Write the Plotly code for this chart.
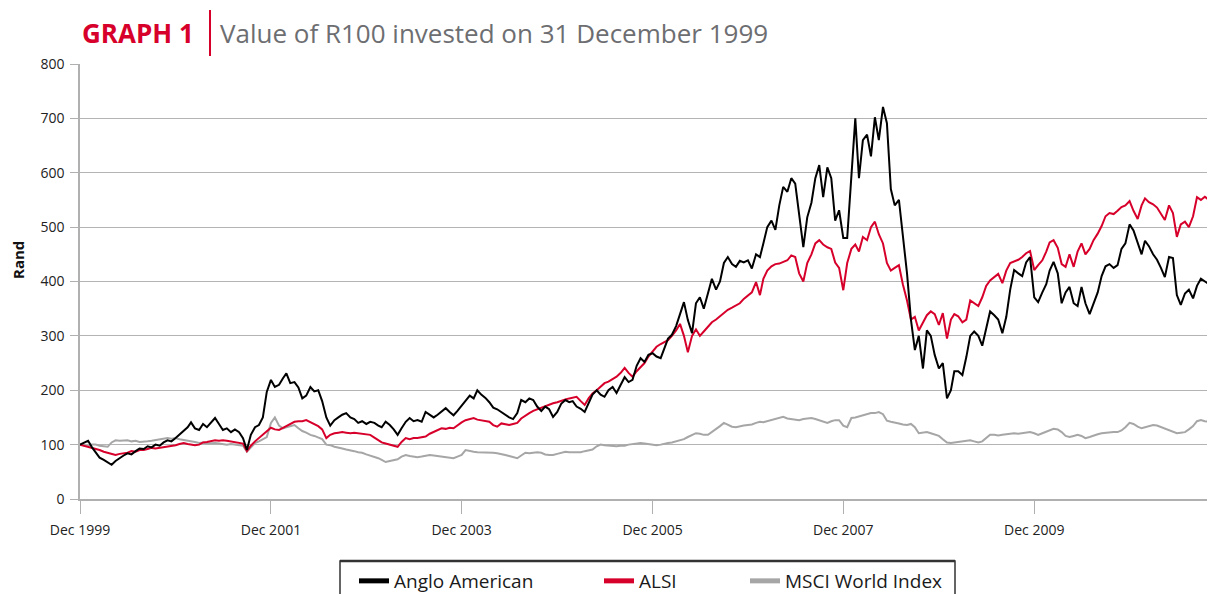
import pandas as pd
import plotly.graph_objects as go

# Semi-monthly observations (15th and month-end), 31 Dec 1999 .. late 2011
# Value of R100 invested on 31 December 1999
anglo_american = [
    100, 103, 107, 95, 86, 76, 72, 68, 63, 70, 76, 80, 84, 82, 88, 93, 92, 97, 95, 100,
    98, 104, 108, 106, 112, 118, 125, 132, 141, 130, 127, 138, 132, 140, 149, 138, 127, 130, 123, 128,
    123, 112, 90, 118, 132, 136, 150, 197, 219, 206, 210, 222, 231, 213, 215, 205, 185, 190, 206, 198,
    200, 180, 150, 135, 145, 150, 155, 158, 150, 147, 140, 143, 138, 142, 140, 135, 132, 142, 136, 128,
    118, 130, 142, 149, 143, 145, 142, 160, 155, 150, 155, 160, 167, 160, 154, 162, 172, 182, 190, 185,
    200, 192, 186, 178, 168, 165, 160, 156, 150, 147, 158, 182, 178, 185, 182, 170, 162, 170, 165, 151,
    160, 175, 182, 178, 180, 170, 166, 160, 175, 192, 200, 192, 188, 200, 206, 195, 210, 224, 215, 219,
    245, 259, 252, 265, 268, 262, 259, 280, 295, 302, 318, 340, 362, 329, 305, 360, 371, 350, 379, 405,
    385, 400, 434, 445, 432, 427, 438, 435, 439, 424, 450, 445, 470, 500, 512, 495, 540, 574, 565, 590,
    580, 520, 463, 518, 545, 590, 614, 555, 610, 590, 512, 531, 480, 480, 590, 700, 590, 660, 670, 630,
    702, 660, 721, 691, 570, 540, 550, 480, 415, 330, 274, 300, 240, 310, 300, 265, 240, 250, 185, 200,
    235, 235, 228, 261, 300, 308, 300, 282, 316, 345, 338, 330, 305, 335, 385, 421, 415, 410, 435, 445,
    371, 362, 380, 395, 420, 436, 415, 360, 380, 390, 360, 355, 390, 360, 340, 360, 380, 410, 428, 432,
    425, 430, 460, 470, 505, 494, 470, 450, 475, 465, 450, 440, 425, 408, 445, 443, 375, 357, 378, 385,
    369, 392, 405, 400, 395,
]

alsi = [
    100, 98, 96, 95, 93, 90, 87, 85, 83, 81, 83, 84, 85, 88, 87, 90, 90, 92, 94, 93,
    94, 95, 96, 98, 99, 101, 103, 101, 100, 99, 100, 104, 105, 107, 108, 107, 108, 107, 106, 105,
    104, 102, 88, 98, 106, 112, 117, 124, 131, 128, 127, 131, 134, 138, 142, 143, 143, 145, 141, 138,
    134, 128, 112, 118, 121, 122, 123, 122, 121, 122, 121, 120, 118, 118, 113, 108, 104, 102, 100, 97,
    96, 105, 112, 110, 112, 112, 113, 115, 120, 123, 126, 130, 129, 131, 130, 136, 141, 145, 147, 149,
    146, 145, 144, 142, 136, 133, 139, 138, 136, 138, 140, 148, 154, 158, 162, 165, 167, 170, 173, 176,
    178, 181, 183, 185, 187, 188, 180, 173, 185, 194, 200, 207, 213, 216, 220, 225, 232, 241, 232, 225,
    235, 242, 250, 262, 272, 280, 285, 288, 292, 300, 310, 322, 300, 270, 300, 312, 300, 308, 316, 325,
    330, 336, 342, 348, 352, 356, 360, 368, 374, 380, 399, 375, 405, 420, 428, 432, 433, 436, 439, 448,
    445, 415, 400, 434, 450, 470, 476, 468, 463, 460, 435, 425, 384, 434, 460, 468, 455, 482, 476, 500,
    510, 487, 470, 434, 420, 425, 430, 395, 365, 330, 335, 310, 325, 338, 345, 340, 320, 342, 295, 330,
    340, 336, 325, 330, 365, 360, 355, 371, 392, 402, 408, 414, 397, 420, 434, 437, 440, 445, 452, 456,
    421, 430, 439, 455, 472, 476, 462, 432, 427, 450, 427, 455, 470, 450, 460, 476, 488, 502, 520, 526,
    524, 530, 537, 540, 548, 530, 515, 540, 553, 546, 542, 536, 525, 513, 540, 526, 482, 505, 510, 500,
    520, 555, 550, 556, 550,
]

msci_world = [
    100, 99, 98, 100, 100, 98, 97, 96, 104, 108, 107, 108, 108, 106, 107, 105, 105, 106, 107, 108,
    110, 111, 112, 111, 112, 110, 109, 108, 106, 105, 103, 104, 102, 103, 103, 102, 101, 100, 101, 100,
    100, 98, 87, 95, 103, 106, 110, 114, 140, 150, 135, 130, 132, 134, 136, 130, 125, 122, 118, 116,
    113, 110, 100, 99, 96, 95, 93, 91, 90, 88, 86, 85, 82, 80, 78, 75, 72, 68, 70, 71,
    73, 78, 81, 79, 78, 77, 78, 80, 81, 80, 79, 78, 77, 76, 75, 78, 81, 90, 88, 87,
    86, 86, 85, 86, 85, 84, 83, 81, 79, 77, 75, 80, 85, 84, 85, 86, 85, 82, 81, 81,
    83, 85, 87, 86, 86, 85, 86, 88, 89, 91, 97, 100, 99, 98, 98, 97, 98, 98, 100, 101,
    102, 103, 102, 101, 100, 99, 100, 102, 103, 104, 106, 107, 110, 114, 118, 121, 120, 118, 118, 123,
    128, 134, 140, 136, 133, 132, 134, 135, 136, 137, 140, 142, 141, 143, 145, 146, 148, 151, 148, 147,
    146, 145, 147, 148, 149, 147, 145, 142, 140, 143, 145, 145, 135, 132, 149, 150, 152, 154, 156, 158,
    158, 160, 156, 144, 142, 141, 139, 137, 136, 138, 132, 121, 122, 123, 121, 119, 116, 110, 104, 103,
    104, 105, 106, 107, 108, 106, 104, 106, 112, 118, 118, 117, 118, 119, 120, 121, 120, 121, 123, 123,
    121, 118, 121, 124, 127, 129, 128, 123, 116, 114, 116, 118, 116, 112, 114, 117, 119, 121, 122, 122,
    123, 123, 126, 132, 140, 138, 133, 130, 132, 134, 136, 135, 132, 130, 127, 124, 121, 122, 123, 128,
    134, 143, 145, 143, 142,
]

try:
    dates = pd.date_range("1999-12-31", periods=len(anglo_american), freq="SME")
except Exception:
    dates = pd.date_range("1999-12-31", periods=len(anglo_american), freq="SM")

series_names = ["Anglo American", "ALSI", "MSCI World Index"]
series_colors = ["#000000", "#d7002b", "#a6a6a6"]

tick_dates = ["1999-12-31", "2001-12-31", "2003-12-31", "2005-12-31", "2007-12-31", "2009-12-31"]
tick_labels = ["Dec 1999", "Dec 2001", "Dec 2003", "Dec 2005", "Dec 2007", "Dec 2009"]

FONT = "Open Sans"

# The page body has an 8px default margin, so the figure is drawn 8px smaller
# and with margins reduced by 8px so the plot lands where the original's does.
OFF = 8
W, H = 1215 - OFF, 594 - OFF
L, R, T, B = 80 - OFF, 0, 64 - OFF, 95
pw, ph = W - L - R, H - T - B

# helpers use on-screen pixel positions (plot area spans x 80..1215, y 64..499)
def px2x(px):
    return (px - 80) / pw

def px2y(py):
    return (499 - py) / ph

fig = go.Figure()
for name, vals, col in [(series_names[2], msci_world, series_colors[2]),
                        (series_names[1], alsi, series_colors[1]),
                        (series_names[0], anglo_american, series_colors[0])]:
    fig.add_trace(go.Scatter(x=dates, y=vals, mode="lines", name=name,
                             line=dict(color=col, width=2), showlegend=False))

# legend entries with thick samples; one legend per entry so spacing matches
legend_ids = ["legend", "legend2", "legend3"]
legend_px = [354, 599, 745]
for name, col, lid in zip(series_names, series_colors, legend_ids):
    fig.add_trace(go.Scatter(x=[None], y=[None], mode="lines", name=name,
                             line=dict(color=col, width=5), legend=lid,
                             showlegend=True, hoverinfo="skip"))

legend_common = dict(orientation="h", yanchor="middle", xanchor="left",
                     bgcolor="rgba(0,0,0,0)", borderwidth=0,
                     font=dict(family=FONT, size=19, color="#1a1a1a"))
layout_legends = {lid: dict(legend_common, x=px2x(px), y=px2y(581))
                  for lid, px in zip(legend_ids, legend_px)}

fig.update_layout(
    width=W, height=H,
    margin=dict(l=L, r=R, t=T, b=B, autoexpand=False),
    paper_bgcolor="white", plot_bgcolor="white",
    font=dict(family=FONT, size=13, color="#222222"),
    xaxis=dict(type="date", range=["1999-12-31", "2011-11-23"],
               tickvals=tick_dates, ticktext=tick_labels,
               showgrid=False, ticks="outside", ticklen=13, tickcolor="#b0b0b0", tickwidth=1,
               ticklabelstandoff=4,
               showline=True, linecolor="#b0b0b0", linewidth=2,
               tickfont=dict(family=FONT, size=14, color="#222222"), zeroline=False),
    yaxis=dict(range=[0, 800], dtick=100, showgrid=True, gridcolor="#b4b4b4", gridwidth=1.3,
               ticks="outside", ticklen=8, tickcolor="#b0b0b0", tickwidth=1,
               ticklabelstandoff=3,
               showline=True, linecolor="#b0b0b0", linewidth=1.5, zeroline=False,
               tickfont=dict(family=FONT, size=14, color="#222222")),
    showlegend=True,
    **layout_legends,
)

fig.add_annotation(xref="paper", yref="paper", x=px2x(80), y=px2y(33), xanchor="left", yanchor="middle",
                   text="<b>GRAPH 1</b>", showarrow=False,
                   font=dict(family=FONT, size=26, color="#d7002b"))
fig.add_annotation(xref="paper", yref="paper", x=px2x(218), y=px2y(33), xanchor="left", yanchor="middle",
                   text="Value of R100 invested on 31 December 1999", showarrow=False,
                   font=dict(family=FONT, size=26, color="#6d6e71"))
fig.add_shape(type="line", xref="paper", yref="paper", x0=px2x(210), x1=px2x(210),
              y0=px2y(10), y1=px2y(56), line=dict(color="#d7002b", width=2))
fig.add_annotation(xref="paper", yref="paper", x=px2x(18), y=px2y(260), xanchor="center", yanchor="middle",
                   text="<b>Rand</b>", textangle=-90, showarrow=False,
                   font=dict(family=FONT, size=15, color="#111111"))
# legend frame (runs off the bottom edge, as in the original)
fig.add_shape(type="rect", xref="paper", yref="paper", x0=px2x(340), x1=px2x(955),
              y0=px2y(561), y1=px2y(610), line=dict(color="#333333", width=1.5))
fig.add_shape(type="line", xref="paper", yref="paper", x0=px2x(340), x1=px2x(955),
              y0=px2y(561), y1=px2y(561), line=dict(color="#333333", width=2.5))

fig.write_html("out.html")
